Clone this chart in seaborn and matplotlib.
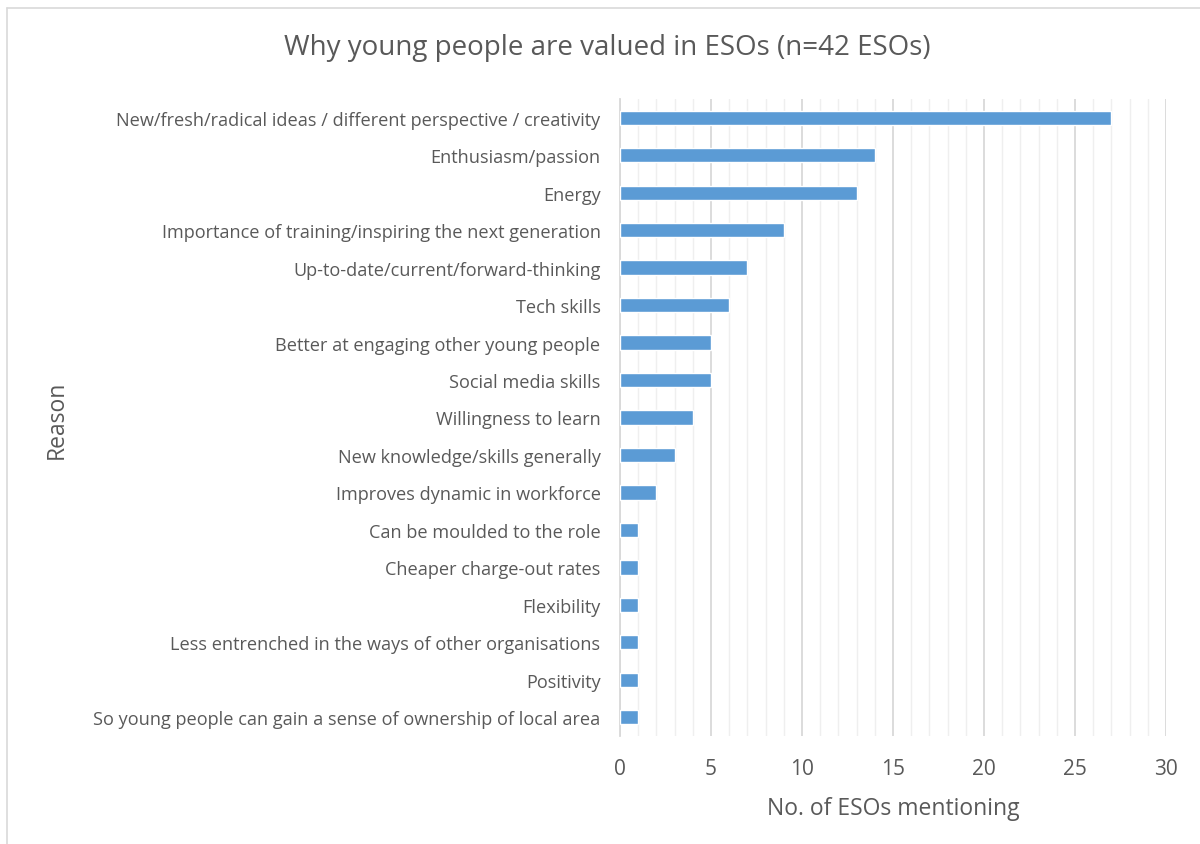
import matplotlib
matplotlib.use("Agg")
import matplotlib.pyplot as plt
import seaborn as sns
import pandas as pd
from matplotlib.lines import Line2D
from matplotlib.ticker import MultipleLocator

reasons = [
    "New/fresh/radical ideas / different perspective / creativity",
    "Enthusiasm/passion",
    "Energy",
    "Importance of training/inspiring the next generation",
    "Up-to-date/current/forward-thinking",
    "Tech skills",
    "Better at engaging other young people",
    "Social media skills",
    "Willingness to learn",
    "New knowledge/skills generally",
    "Improves dynamic in workforce",
    "Can be moulded to the role",
    "Cheaper charge-out rates",
    "Flexibility",
    "Less entrenched in the ways of other organisations",
    "Positivity",
    "So young people can gain a sense of ownership of local area",
]
counts = [27, 14, 13, 9, 7, 6, 5, 5, 4, 3, 2, 1, 1, 1, 1, 1, 1]
x_ticks = [0, 5, 10, 15, 20, 25, 30]

df = pd.DataFrame({"Reason": reasons, "Count": counts})

sns.set_style("white")
plt.rcParams["font.family"] = ["Open Sans", "DejaVu Sans"]
text_color = "#595959"

fig = plt.figure(figsize=(12, 8.45), dpi=100)
ax = fig.add_axes([620 / 1200, 1 - 737 / 845, (1166 - 620) / 1200, (737 - 100) / 845])

sns.barplot(data=df, x="Count", y="Reason", color="#5B9BD5", width=0.38,
            orient="h", ax=ax, saturation=1, zorder=3)

ax.set_xlim(0, 30)
ax.set_ylim(16.5, -0.5)
ax.set_xticks(x_ticks)
ax.xaxis.set_minor_locator(MultipleLocator(1))
ax.grid(axis="x", which="major", color="#D9D9D9", linewidth=1.3, zorder=0)
ax.grid(axis="x", which="minor", color="#EFEFEF", linewidth=1.0, zorder=0)
ax.set_axisbelow(True)
for s in ["top", "right", "bottom"]:
    ax.spines[s].set_visible(False)
ax.spines["left"].set_color("#D9D9D9")
ax.spines["left"].set_linewidth(1.3)
ax.tick_params(axis="both", which="both", length=0, colors=text_color)
ax.tick_params(axis="y", pad=14, labelsize=13.1)
ax.tick_params(axis="x", pad=16, labelsize=15)

ax.set_xlabel("No. of ESOs mentioning", fontsize=16.5, color=text_color, labelpad=12)
ax.set_ylabel("")
fig.text(57 / 1200, 1 - 420 / 845, "Reason", rotation=90, fontsize=16.5,
         color=text_color, ha="center", va="center")
fig.text(607 / 1200, 1 - 48 / 845, "Why young people are valued in ESOs (n=42 ESOs)",
         fontsize=20, color=text_color, ha="center", va="center")

fig.add_artist(Line2D([6.5 / 1200, 6.5 / 1200], [0, 1 - 8.5 / 845],
                      transform=fig.transFigure, color="#D9D9D9", linewidth=1.2))
fig.add_artist(Line2D([6.5 / 1200, 1], [1 - 8.5 / 845, 1 - 8.5 / 845],
                      transform=fig.transFigure, color="#D9D9D9", linewidth=1.2))

fig.savefig("out.png", dpi=100)
